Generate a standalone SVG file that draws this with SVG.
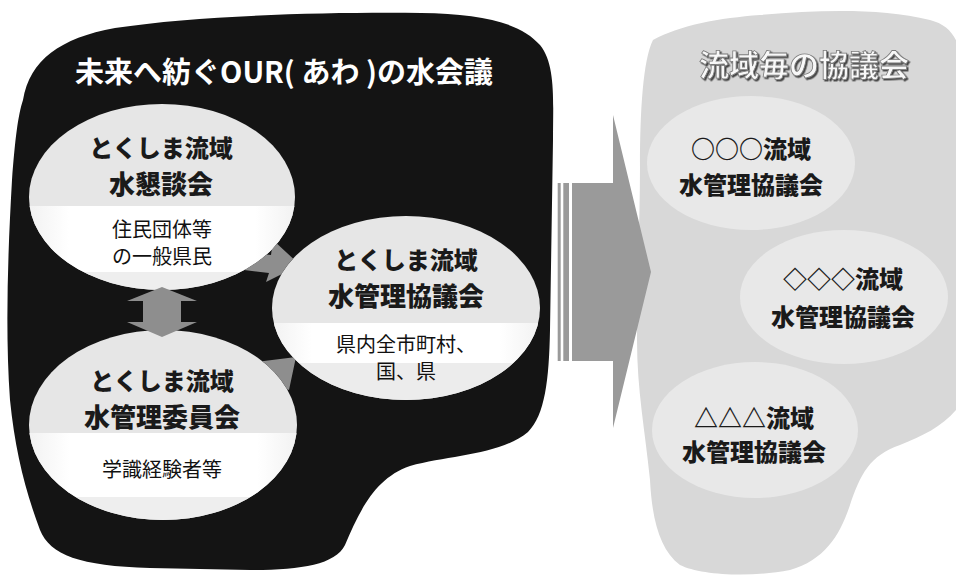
<svg xmlns="http://www.w3.org/2000/svg" width="956" height="576" viewBox="0 0 956 576">
<style>
text{font-family:"Noto Sans CJK JP","Noto Sans CJK SC",sans-serif;text-anchor:middle;dominant-baseline:central}
.ttl{fill:#1a1a1a;font-weight:900}
.k{font-size:24px}
.j{font-size:26px}
.sub{fill:#111;font-size:20px;font-weight:400}
.rt{fill:#1a1a1a;font-weight:900;font-size:24px}
.node{fill:#e6e6e6}
.band{fill:url(#bandg)}
.rnode{fill:#e8e8e8}
.conn{fill:#8e8e8e}
.big{fill:#9a9a9a}
</style>
<defs>
<linearGradient id="bandg" x1="0" y1="0" x2="1" y2="0">
<stop offset="0" stop-color="#f2f2f2"/>
<stop offset="0.15" stop-color="#ffffff"/>
<stop offset="0.85" stop-color="#ffffff"/>
<stop offset="1" stop-color="#f2f2f2"/>
</linearGradient>
<filter id="shadow" x="-10%" y="-30%" width="120%" height="160%">
<feDropShadow dx="1.5" dy="1.5" stdDeviation="0.6" flood-color="#444444" flood-opacity="1"/>
</filter>
<clipPath id="c1"><ellipse cx="162" cy="197" rx="133" ry="93"/></clipPath>
<clipPath id="c2"><ellipse cx="406" cy="308" rx="134" ry="92"/></clipPath>
<clipPath id="c3"><ellipse cx="163" cy="425" rx="134" ry="95"/></clipPath>
<mask id="behind" maskUnits="userSpaceOnUse" x="0" y="0" width="956" height="576">
<rect x="0" y="0" width="956" height="576" fill="#fff"/>
<ellipse cx="162" cy="197" rx="133" ry="93" fill="#000"/>
<ellipse cx="406" cy="308" rx="134" ry="92" fill="#000"/>
<ellipse cx="163" cy="425" rx="134" ry="95" fill="#000"/>
</mask>
</defs>
<rect x="0" y="0" width="956" height="576" fill="#ffffff"/>

<g id="our-council">
<path d="M23,100 C30,60 60,38 115,28 C200,15 330,12 421,13 C480,14 520,22 540,45 C556,65 553,100 553,140 L550,330 C549,380 545,415 528,432 C500,455 450,455 410,466 C375,478 360,510 345,545 C335,565 300,570 250,570 L150,568 C80,566 50,555 40,530 C25,490 15,450 10,400 C5,330 8,250 12,180 C15,140 18,115 23,100 Z" fill="#141414"/>
<text x="284" y="70" font-size="29" font-weight="700" fill="#ffffff">未来へ紡ぐOUR( あわ )の水会議</text>
</g>

<g id="basin-councils">
<path d="M653,40 C680,25 720,18 760,15 C820,10 880,8 930,20 C950,25 960,40 960,60 L960,405 C945,425 925,435 900,445 C870,455 860,475 850,505 C840,535 825,560 790,570 C750,578 700,575 680,565 C660,550 652,520 650,480 C645,430 637,390 637,340 C637,280 640,220 640,167 C640,110 643,60 653,40 Z" fill="#d8d8d8"/>
<text x="804" y="63" font-size="30" font-weight="700" fill="#f8f8f8" stroke="#7a7a7a" stroke-width="0.8" filter="url(#shadow)">流域毎の協議会</text>
</g>

<g id="node-kondankai">
<ellipse class="node" cx="162" cy="197" rx="133" ry="93"/>
<rect class="band" x="29" y="206" width="266" height="66" clip-path="url(#c1)"/>
<rect x="29" y="272" width="266" height="20" fill="#eeeeee" clip-path="url(#c1)"/>
<text class="ttl k" x="161" y="146">とくしま流域</text>
<text class="ttl j" x="161" y="182">水懇談会</text>
<text class="sub" x="162" y="228">住民団体等</text>
<text class="sub" x="162" y="255">の一般県民</text>
</g>

<g id="node-kyogikai">
<ellipse class="node" cx="406" cy="308" rx="134" ry="92"/>
<rect class="band" x="272" y="323" width="268" height="40" clip-path="url(#c2)"/>
<rect x="272" y="363" width="268" height="40" fill="#ececec" clip-path="url(#c2)"/>
<text class="ttl k" x="406" y="258">とくしま流域</text>
<text class="ttl j" x="406" y="294">水管理協議会</text>
<text class="sub" x="406" y="343">県内全市町村、</text>
<text class="sub" x="406" y="370">国、県</text>
</g>

<g id="node-iinkai">
<ellipse class="node" cx="163" cy="425" rx="134" ry="95"/>
<rect class="band" x="29" y="433" width="268" height="64" clip-path="url(#c3)"/>
<rect x="29" y="497" width="268" height="25" fill="#eeeeee" clip-path="url(#c3)"/>
<text class="ttl k" x="162" y="379">とくしま流域</text>
<text class="ttl j" x="162" y="415">水管理委員会</text>
<text class="sub" x="162" y="468">学識経験者等</text>
</g>

<g id="node-circle">
<ellipse class="rnode" cx="751" cy="163" rx="104" ry="67"/>
<text class="rt" x="751" y="147">○○○流域</text>
<text class="rt" x="751" y="183">水管理協議会</text>
</g>

<g id="node-diamond">
<ellipse class="rnode" cx="844" cy="297" rx="104" ry="67"/>
<text class="rt" x="843" y="277">◇◇◇流域</text>
<text class="rt" x="843" y="315">水管理協議会</text>
</g>

<g id="node-triangle">
<ellipse class="rnode" cx="755" cy="430" rx="103" ry="68"/>
<text class="rt" x="754" y="416">△△△流域</text>
<text class="rt" x="754" y="450">水管理協議会</text>
</g>

<g id="connectors">
<polygon class="conn" points="162,287 197,301 181,301 181,322 197,322 162,337 127,322 143,322 143,301 127,301"/>
<polygon class="conn" mask="url(#behind)" points="230,250 271,255 273,240 300,265 266,282 269,273 228,268"/>
<polygon class="conn" mask="url(#behind)" points="240,395 261,378 256,362 296,357 289,390 275,385 252,407"/>
<rect class="big" x="557.7" y="183" width="3" height="178"/>
<rect class="big" x="563.3" y="183" width="5.7" height="178"/>
<polygon class="big" points="572,183 613,183 613,115 651,272 613,428 613,361 572,361"/>
</g>
</svg>
